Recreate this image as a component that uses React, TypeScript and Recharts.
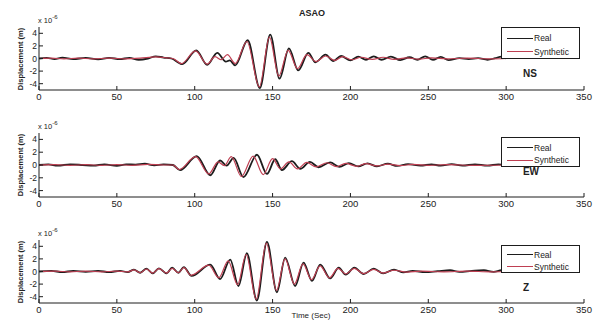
import React from "react"
import { LineChart, Line, XAxis, YAxis } from "recharts"

// [time (s), displacement (x1e-6 m)]
const nsReal: [number, number][] = [
  [0, 0], [5, 0.1], [10, -0.1], [15, 0.15], [22, -0.1], [30, 0.1], [38, -0.15], [45, 0.1],
  [52, -0.1], [58, 0.1], [64, -0.2], [70, 0], [75, 0.35], [80, 0.15], [85, 0], [92, -0.9],
  [101, 1.3], [108, -1.0], [114.5, 0.9], [120, -0.5], [122.5, -0.3], [126, -1.1], [134, 2.9],
  [141.8, -4.7], [148.5, 3.8], [154.5, -3.2], [160.5, 1.6], [166.5, -1.9], [173, 0.9],
  [177.5, -0.6], [184, 0.6], [189, -0.4], [194, 0.4], [200, -0.3], [205, 0.3], [210, -0.2],
  [215, 0.35], [220, -0.2], [226, 0.3], [232, -0.25], [238, 0.2], [243, -0.2], [248, 0.35],
  [253, -0.2], [258, 0.25], [263, -0.25], [270, 0.05], [276, -0.1], [282, 0.05], [288, -0.2],
  [293, 0.05], [297, 0.3], [300, 0],
]
const nsSynth: [number, number][] = [
  [0, 0], [8, 0.05], [16, -0.05], [25, 0.05], [35, -0.05], [45, 0.05], [55, -0.05], [65, 0.05],
  [75, 0.25], [82, 0.1], [86, 0], [91.5, -0.8], [100.5, 1.2], [108, -0.9], [113, 0.3],
  [117, -0.2], [121, 0.6], [126, -0.8], [133.5, 2.7], [141.5, -4.5], [148, 3.4], [154, -2.8],
  [160, 1.3], [166, -1.6], [172, 0.6], [178, -0.5], [184, 0.4], [190, -0.3], [195, 0.3],
  [201, -0.2], [207, 0.2], [214, -0.15], [221, 0.2], [228, -0.15], [236, 0.1], [244, -0.1],
  [252, 0.1], [262, -0.05], [275, 0.05], [290, -0.05], [300, 0],
]

const ewReal: [number, number][] = [
  [0, 0], [6, 0.1], [12, -0.1], [20, 0.1], [28, 0], [35, -0.1], [42, 0.1], [50, -0.15],
  [56, 0.1], [62, 0.05], [68, 0.2], [74, -0.05], [80, 0.1], [86, 0], [90.6, -0.8], [101.3, 1.4],
  [110, -1.6], [116.3, 0.7], [120.5, -0.1], [125, 1.1], [131.3, -1.9], [140, 1.6], [146.4, -1.4],
  [151.7, 0.9], [156, -0.8], [162.4, 0.6], [167.8, -0.6], [174, 0.5], [179.5, -0.35], [187, 0.4],
  [193, -0.3], [199, 0.3], [205, -0.2], [211, 0.25], [217, -0.2], [224, 0.2], [230, -0.15],
  [237, 0.15], [245, -0.1], [252, 0.1], [258, -0.1], [265, 0.15], [272, -0.1], [280, 0.1],
  [288, -0.1], [295, 0.1], [300, 0],
]
const ewSynth: [number, number][] = [
  [0, 0], [10, 0.05], [20, -0.05], [30, 0.05], [40, -0.05], [50, 0.05], [60, -0.05], [70, 0.1],
  [80, 0], [86, 0], [90, -0.7], [100.5, 1.3], [109, -1.4], [115, 0.5], [119, -0.1], [123.5, 1.3],
  [130, -1.8], [137.5, 1.4], [144, -1.5], [150, 1.0], [155, -0.6], [160.5, 0.5], [166, -0.6],
  [172, 0.4], [178, -0.3], [185, 0.35], [191, -0.25], [197, 0.25], [204, -0.2], [210, 0.2],
  [217, -0.15], [224, 0.15], [232, -0.1], [240, 0.1], [250, -0.05], [262, 0.05], [280, -0.05],
  [300, 0],
]

const zReal: [number, number][] = [
  [0, 0], [8, 0.1], [15, -0.1], [22, 0.1], [30, -0.05], [38, 0.1], [45, -0.1], [52, 0.1],
  [57, -0.1], [61, 0.3], [65, -0.2], [69, 0.45], [73, -0.3], [77, 0.5], [82, -0.3], [85.5, 0.6],
  [89.5, -0.2], [93, 0.7], [98, -0.7], [110, 1.1], [116.3, -1.2], [122.8, 1.9], [128.1, -2.3],
  [133.5, 2.9], [139.9, -4.6], [146.4, 4.7], [152.8, -3.3], [158.1, 2.2], [164.5, -2.3],
  [169.9, 1.4], [175.3, -1.5], [180.6, 1.1], [187, -1.1], [192.5, 0.6], [197, -0.5],
  [202.5, 0.6], [208.5, -0.4], [215, 0.45], [221, -0.3], [228, 0.3], [234, -0.15], [240, 0.1],
  [248, -0.1], [256, 0.05], [264, 0.2], [270, -0.05], [278, 0.1], [285.7, 0.2], [292, -0.05],
  [297, 0.2], [300, 0],
]
const zSynth: [number, number][] = [
  [0, 0], [10, 0.05], [20, -0.05], [30, 0.05], [40, -0.05], [50, 0.05], [57, -0.05], [61, 0.25],
  [65, -0.2], [69, 0.4], [73, -0.25], [77, 0.45], [82, -0.25], [85.5, 0.5], [89.5, -0.2],
  [93, 0.6], [97.5, -0.6], [109, 1.0], [115.5, -1.0], [121.5, 1.7], [127.5, -2.1], [133, 2.7],
  [139.5, -4.4], [146, 4.5], [152.5, -3.0], [158, 2.0], [164, -2.0], [169.5, 1.2], [175, -1.3],
  [180.5, 0.9], [186.5, -1.0], [192, 0.5], [197, -0.4], [202.5, 0.5], [208.5, -0.35],
  [215, 0.35], [221, -0.25], [228, 0.2], [236, -0.1], [246, 0.05], [260, -0.05], [275, 0.05],
  [290, -0.05], [300, 0],
]

const xTicks = [0, 50, 100, 150, 200, 250, 300, 350]
const yTicks = [-4, -2, 0, 2, 4]

const INK = "#1d1d1d"
const RED = "#bf3f52"
const FONT = "'Liberation Sans', Arial, sans-serif"

const toPts = (arr: [number, number][]) => arr.map(([t, v]) => ({ t, v }))

const BottomTick = (p: any) => (
  <g>
    <line x1={p.x} x2={p.x} y1={p.y} y2={p.y - 4} stroke={INK} />
    <text x={p.x} y={p.y + 10} textAnchor="middle" fontSize={9.5} fill="#222" fontFamily={FONT}>
      {p.payload.value}
    </text>
  </g>
)
const TopTick = (p: any) => <line x1={p.x} x2={p.x} y1={p.y} y2={p.y + 4} stroke={INK} />
const LeftTick = (p: any) => (
  <g>
    <line x1={p.x} x2={p.x + 4} y1={p.y} y2={p.y} stroke={INK} />
    <text x={p.x - 2} y={p.y + 3} textAnchor="end" fontSize={8.5} fill="#222" fontFamily={FONT}>
      {p.payload.value}
    </text>
  </g>
)
const RightTick = (p: any) => <line x1={p.x} x2={p.x - 4} y1={p.y} y2={p.y} stroke={INK} />

const txt: React.CSSProperties = { position: "absolute", fontFamily: FONT, color: "#222", whiteSpace: "nowrap" }

function Panel({ plotTop, plotH, real, synth, tag, tagX, tagY, legTop, legH }: any) {
  const pad = 5
  return (
    <>
      <div style={{ position: "absolute", left: 0, top: plotTop - pad }}>
        <LineChart width={599} height={pad + plotH + 16} margin={{ top: pad, right: 15, left: 0, bottom: 0 }}>
          <XAxis dataKey="t" type="number" domain={[0, 350]} ticks={xTicks} interval={0} allowDataOverflow
            height={16} tickSize={0} tickMargin={0} tickLine={false} axisLine={{ stroke: INK }}
            tick={<BottomTick />} />
          <XAxis xAxisId="top" orientation="top" dataKey="t" type="number" domain={[0, 350]} ticks={xTicks} interval={0}
            height={0} tickSize={0} tickMargin={0} tickLine={false} axisLine={{ stroke: INK }} tick={<TopTick />} />
          <YAxis type="number" domain={[-5, 5]} ticks={yTicks} interval={0} allowDataOverflow width={39}
            tickSize={0} tickMargin={0} tickLine={false} axisLine={{ stroke: INK }} tick={<LeftTick />} />
          <YAxis yAxisId="r" orientation="right" type="number" domain={[-5, 5]} ticks={yTicks} interval={0} width={0}
            tickSize={0} tickMargin={0} tickLine={false} axisLine={{ stroke: INK }} tick={<RightTick />} />
          <Line data={toPts(real)} dataKey="v" type="monotone" stroke={INK} strokeWidth={1.8} dot={false} isAnimationActive={false} />
          <Line data={toPts(synth)} dataKey="v" type="monotone" stroke={RED} strokeWidth={1.2} dot={false} isAnimationActive={false} />
        </LineChart>
      </div>
      <div style={{ ...txt, left: 38, top: plotTop - 13, fontSize: 7.5 }}>
        x 10<sup style={{ fontSize: 6 }}>-6</sup>
      </div>
      <div style={{ ...txt, left: 20, top: plotTop + plotH / 2, fontSize: 7.5, fontWeight: "bold", transform: "translate(-50%, -50%) rotate(-90deg)" }}>
        Displacement (m)
      </div>
      <div style={{ position: "absolute", left: 501, top: legTop, width: 79, height: legH, border: `1px solid ${INK}`, background: "#fff", boxSizing: "border-box" }}>
        <div style={{ ...txt, left: 5, top: legH * 0.35 - 6, fontSize: 8.5, display: "flex", alignItems: "center" }}>
          <span style={{ display: "inline-block", width: 26, borderTop: `1.5px solid ${INK}`, marginRight: 1 }} />Real
        </div>
        <div style={{ ...txt, left: 5, top: legH * 0.78 - 6, fontSize: 8.5, display: "flex", alignItems: "center" }}>
          <span style={{ display: "inline-block", width: 26, borderTop: `1.2px solid ${RED}`, marginRight: 1 }} />Synthetic
        </div>
      </div>
      <div style={{ ...txt, left: tagX, top: tagY, fontSize: 10, fontWeight: "bold", transform: "translate(-50%, -50%)" }}>{tag}</div>
    </>
  )
}

export default function App() {
  return (
    <div style={{ position: "absolute", left: 0, top: 0, width: 599, height: 329, background: "#fff", overflow: "hidden" }}>
      <div style={{ ...txt, left: 312, top: 13, fontSize: 9, fontWeight: "bold", transform: "translate(-50%, -50%)" }}>ASAO</div>
      <Panel plotTop={27} plotH={63} real={nsReal} synth={nsSynth} tag="NS" tagX={530} tagY={73} legTop={27} legH={32} />
      <Panel plotTop={133} plotH={64} real={ewReal} synth={ewSynth} tag="EW" tagX={531} tagY={171} legTop={137} legH={30} />
      <Panel plotTop={240} plotH={63} real={zReal} synth={zSynth} tag="Z" tagX={526} tagY={287} legTop={245} legH={28} />
      <div style={{ ...txt, left: 311, top: 315, fontSize: 8, transform: "translate(-50%, -50%)" }}>Time (Sec)</div>
    </div>
  )
}
